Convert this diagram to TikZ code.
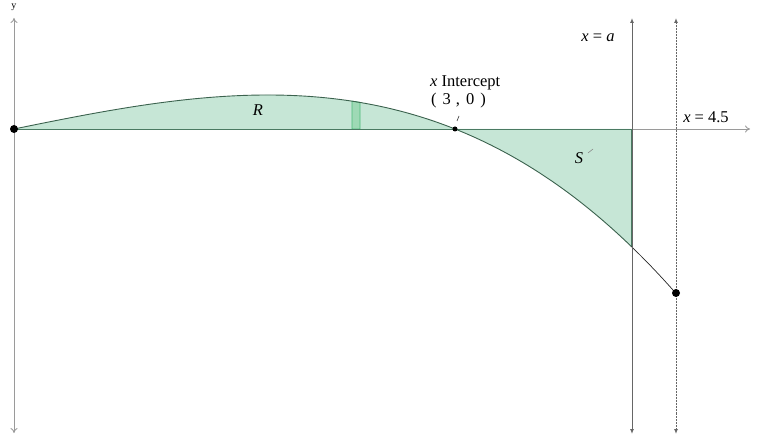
\documentclass[tikz,border=0pt]{standalone}
\usepackage{fontspec}
\setmainfont{Liberation Serif}
\usetikzlibrary{arrows.meta}
\definecolor{regfill}{HTML}{C6E6D6}
\definecolor{regedge}{HTML}{4A7A62}
\definecolor{stripfill}{HTML}{9ED9B5}
\definecolor{stripedge}{HTML}{4CBB7A}
\definecolor{axisgray}{HTML}{9A9A9A}
\tikzset{
  axisline/.style={draw=axisgray, line width=0.9pt},
  vline/.style={draw=black!60, line width=1pt, {Latex[length=5pt,width=4pt]}-{Latex[length=5pt,width=4pt]}},
  dot/.style={circle, fill=black, inner sep=0pt, minimum size=8pt},
  lbl/.style={font=\fontsize{16.5}{19}\selectfont, inner sep=0pt},
  tickmark/.style={draw=black!45, line width=0.6pt}
}
\pgfmathdeclarefunction{fy}{1}{\pgfmathparse{129 - 3.178*#1*(3-#1)*(#1+3.14)}}
\begin{document}
\begin{tikzpicture}[x=1pt,y=-1pt]
\useasboundingbox (0,0) rectangle (763,435);
% regions
\fill[regfill] plot[domain=0:3, samples=80] ({14+147*\x},{fy(\x)}) -- cycle;
\fill[regfill] (455,129) -- plot[domain=3:4.2, samples=50] ({14+147*\x},{fy(\x)}) -- (631.4,129) -- cycle;
% strip
\filldraw[fill=stripfill, draw=stripedge, line width=0.8pt] (352,129) -- (352,{fy(2.299)}) -- (360,{fy(2.354)}) -- (360,129) -- cycle;
% axes
\coordinate (ytop) at (14,18);
\coordinate (ybot) at (14,433);
\coordinate (xleft) at (14,129);
\coordinate (xright) at (750,129);
\draw[axisline, {To[length=5pt,width=7pt]}-{To[length=5pt,width=7pt]}] (ybot) -- (ytop);
\draw[axisline, -{To[length=5pt,width=7pt]}] (xleft) -- (xright);
\node[font=\fontsize{10}{11}\selectfont, inner sep=0pt] (ylab) at (14,7) {y};
% region edges along axis
\draw[regedge, line width=0.9pt] (14,129) -- (631.4,129);
\draw[regedge, line width=0.7pt] (631.4,129) -- (631.4,{fy(4.2)});
% curve
\draw[regedge!80!black, line width=0.9pt] plot[domain=0:4.2, samples=120] ({14+147*\x},{fy(\x)});
\draw[black!85, line width=0.7pt] plot[domain=4.2:4.5, samples=30] ({14+147*\x},{fy(\x)});
% vertical lines
\coordinate (atop) at (632,18);
\coordinate (abot) at (632,434);
\coordinate (btop) at (676,18);
\coordinate (bbot) at (676,434);
\draw[vline] (abot) -- (atop);
\draw[vline, dashed, dash pattern=on 2pt off 1pt] (bbot) -- (btop);
% points
\node[dot] (origin) at (14,129) {};
\node[dot, minimum size=5pt] (xint) at (455,129) {};
\node[dot] (endpt) at (676,293) {};
% labels
\node[lbl] (R) at (258,110) {\itshape R};
\node[lbl] (S) at (579,158) {\itshape S};
\draw[tickmark] (588,153) -- (593,149);
\node[lbl, anchor=west] (xintlab) at (430,83) {\itshape x\upshape\ Intercept};
\node[lbl, anchor=west] (xintco) at (431,101) {(\hspace{6pt}3\hspace{5pt},\hspace{6pt}0\hspace{6pt})};
\draw[tickmark, draw=black!80] (457,121) -- (459,116);
\node[lbl] (xa) at (598,38) {\itshape x\upshape\ = \itshape a};
\node[lbl] (x45) at (706,117) {\itshape x\upshape\ = 4.5};
\end{tikzpicture}
\end{document}
